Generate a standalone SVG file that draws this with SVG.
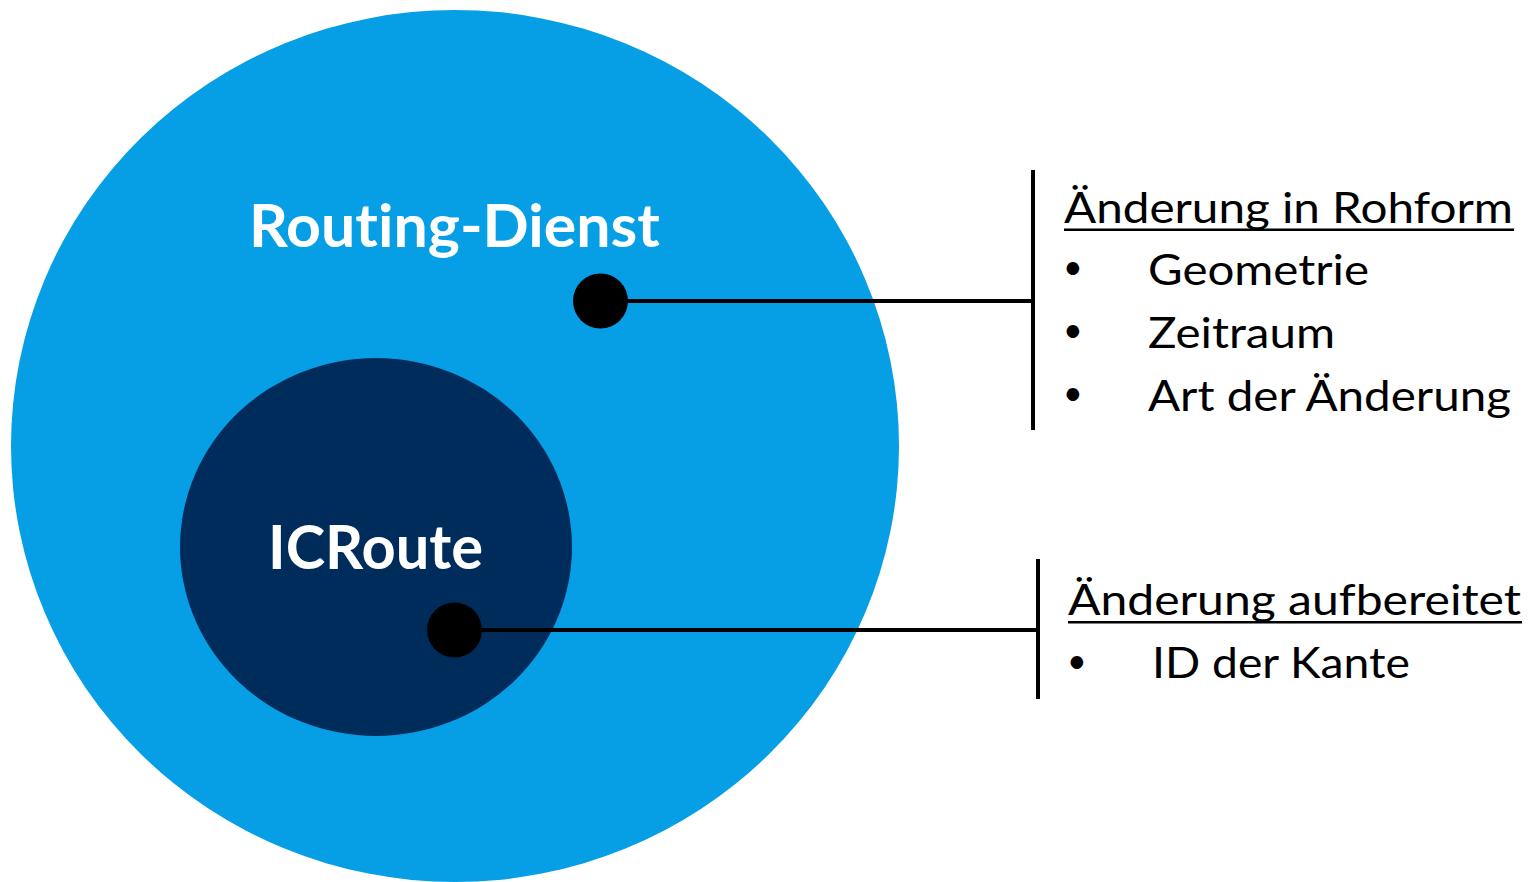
<svg xmlns="http://www.w3.org/2000/svg" width="1533" height="882" viewBox="0 0 1533 882">
  <style>
    text { font-variant-ligatures: none; }
    .title { font-family: Lato, "Open Sans", "Liberation Sans", sans-serif; font-weight: bold; fill: #ffffff; }
    .label { font-family: Lato, "Open Sans", "Liberation Sans", sans-serif; font-size: 43px; fill: #000000; }
    .bullet { font-family: Lato, "Open Sans", "Liberation Sans", sans-serif; font-size: 34px; fill: #000000; }
    .wire { stroke: #000000; stroke-width: 4; fill: none; }
    .dot { fill: #000000; }
  </style>

  <!-- outer layer: routing service -->
  <g id="routing-dienst">
    <ellipse cx="455" cy="446" rx="444" ry="436" fill="#069fe5"/>
    <text class="title" x="249" y="247" font-size="60" textLength="411" lengthAdjust="spacingAndGlyphs">Routing-Dienst</text>
  </g>

  <!-- inner layer: ICRoute -->
  <g id="icroute">
    <ellipse cx="376" cy="547" rx="196" ry="189" fill="#002c5c"/>
    <text class="title" x="268" y="569" font-size="61" textLength="215" lengthAdjust="spacingAndGlyphs">ICRoute</text>
  </g>

  <!-- connectors from each layer to its description -->
  <g id="connectors">
    <line class="wire" x1="600" y1="301" x2="1033" y2="301"/>
    <line class="wire" x1="1033" y1="170" x2="1033" y2="430"/>
    <circle class="dot" cx="600.5" cy="301" r="27.5"/>
    <line class="wire" x1="454" y1="630" x2="1038" y2="630"/>
    <line class="wire" x1="1038" y1="559" x2="1038" y2="699"/>
    <circle class="dot" cx="454.5" cy="630" r="27.5"/>
  </g>

  <!-- description: raw change -->
  <g id="rohform">
    <text class="label" x="1064" y="223" textLength="449" lengthAdjust="spacingAndGlyphs">Änderung in Rohform</text>
    <rect x="1064" y="228.5" width="450" height="2.5" fill="#000000"/>
    <text class="bullet" x="1063" y="279">•</text>
    <text class="label" x="1148" y="285" textLength="221" lengthAdjust="spacingAndGlyphs">Geometrie</text>
    <text class="bullet" x="1063" y="342">•</text>
    <text class="label" x="1148" y="348" textLength="187" lengthAdjust="spacingAndGlyphs">Zeitraum</text>
    <text class="bullet" x="1063" y="405">•</text>
    <text class="label" x="1148" y="411" textLength="363" lengthAdjust="spacingAndGlyphs">Art der Änderung</text>
  </g>

  <!-- description: prepared change -->
  <g id="aufbereitet">
    <text class="label" x="1068" y="615" textLength="453" lengthAdjust="spacingAndGlyphs">Änderung aufbereitet</text>
    <rect x="1068" y="621" width="454" height="2.5" fill="#000000"/>
    <text class="bullet" x="1067" y="673">•</text>
    <text class="label" x="1152" y="678" textLength="258" lengthAdjust="spacingAndGlyphs">ID der Kante</text>
  </g>
</svg>
